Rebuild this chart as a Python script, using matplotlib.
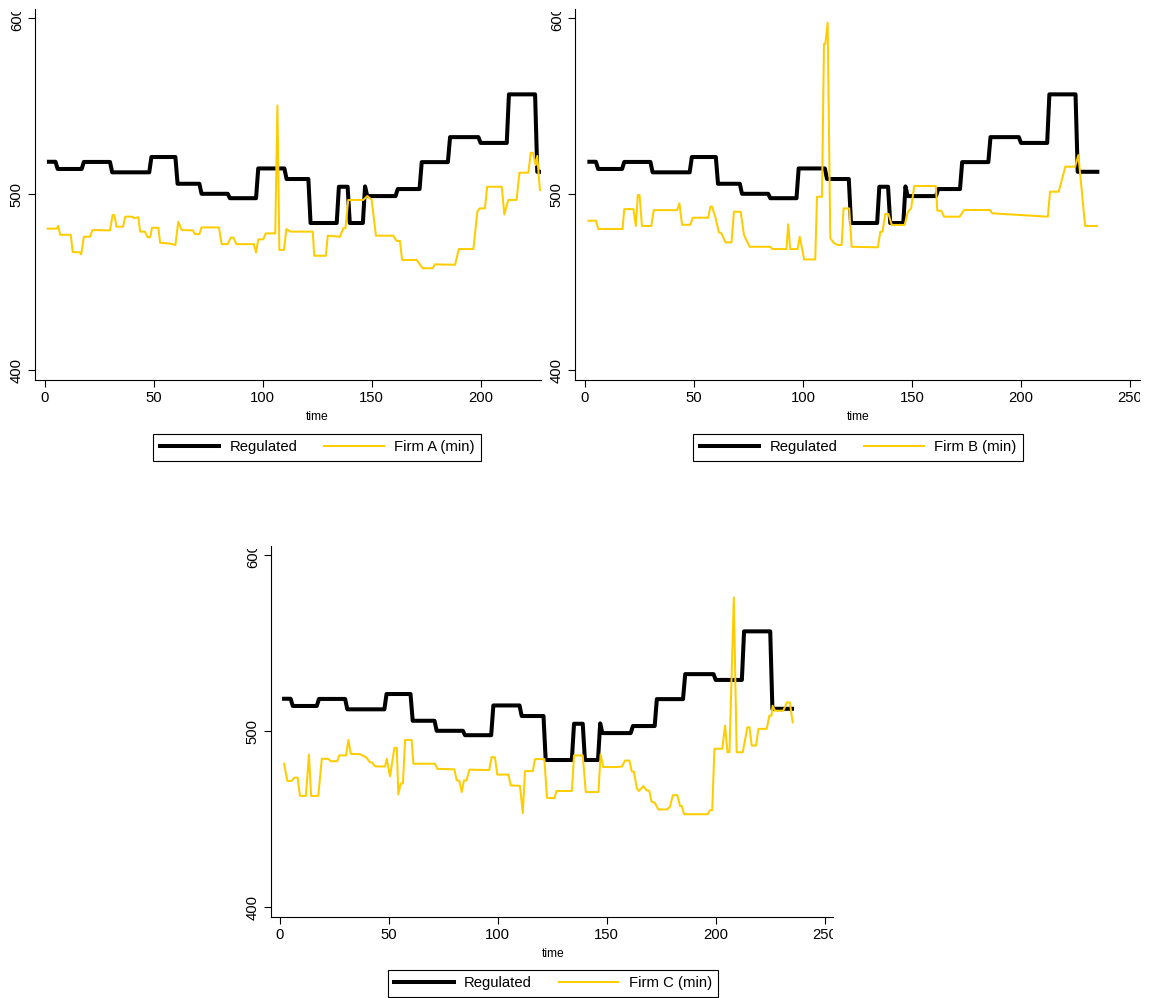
import matplotlib
matplotlib.use("Agg")
import matplotlib.pyplot as plt
from matplotlib.lines import Line2D
from matplotlib.transforms import Bbox, TransformedBbox

plt.rcParams['font.family'] = ['Liberation Sans', 'DejaVu Sans']

# regulated price (same series in all three panels)
reg_t = [2, 5, 6, 17, 18, 30, 31, 48, 49, 60, 61, 71, 72, 84, 85, 97, 98, 110, 111, 121,
         122, 134, 135, 139, 140, 146, 147, 148, 161, 162, 172, 173, 185, 186, 199, 200,
         212, 213, 225, 226, 235]
reg_y = [518.5, 518.5, 514.4, 514.4, 518.4, 518.4, 512.5, 512.5, 521.2, 521.2, 506, 506,
         500.3, 500.3, 497.8, 497.8, 514.7, 514.7, 508.7, 508.7, 483.7, 483.7, 504.3, 504.3,
         483.7, 483.7, 504.5, 499, 499, 503, 503, 518.3, 518.3, 532.5, 532.5, 529.2, 529.2,
         556.8, 556.8, 512.8, 512.8]

firm_a_t = [1.4, 5.5, 6.3, 7.1, 12, 12.9, 16.2, 16.8, 18, 20.8, 22, 30, 31.2, 32, 33, 36, 37,
            40.4, 41, 43, 43.8, 46, 47.3, 48.4, 49.3, 52.2, 53, 57.5, 60, 61.3, 62.9, 68, 69,
            71, 72, 80, 81.2, 84, 85.4, 86.6, 88, 96, 97, 98, 100.3, 101.4, 105.8, 106.8,
            107.7, 109.8, 110.9, 112.9, 123, 123.7, 129, 129.9, 135.5, 137, 138, 139.3, 146.2,
            148, 150, 152, 160, 161.5, 163, 164, 170.7, 173.4, 178, 179, 188.3, 190, 196.7,
            198.5, 199.5, 202, 203, 209.7, 210.9, 212.7, 216.5, 217.8, 221.9, 223, 224, 225.3,
            226, 227.2, 229]
firm_a_y = [480.5, 480.5, 482, 477, 477, 467.2, 467, 465.9, 475.9, 475.9, 479.7, 479.5, 488.2,
            488.2, 481.6, 481.6, 487.3, 487.3, 486.4, 487, 478.8, 478.8, 475.6, 475.6, 481, 481,
            472.5, 472, 471.2, 484.4, 479.7, 479.5, 477.4, 477.4, 481.2, 481.2, 471.7, 471.7,
            475.4, 475.4, 471.7, 471.7, 466.9, 474.4, 474.4, 477.8, 477.8, 550.5, 468.4, 468.4,
            480.2, 478.8, 478.8, 465.1, 465.1, 476.5, 475.9, 480.7, 480.7, 496.8, 496.8, 499,
            497, 476.5, 476.5, 473.5, 473.5, 462.7, 462.7, 458, 458, 460.2, 460, 468.9, 468.9,
            490.1, 492, 492, 504.3, 504.3, 488.6, 496.8, 496.8, 512.3, 512.3, 523.6, 523.6,
            516.6, 521.8, 502.4, 502.4]

firm_b_t = [1.5, 5, 6.1, 17.2, 18, 22.2, 23.3, 24.2, 25, 26.1, 30.4, 31.5, 42.2, 43.3, 44.5,
            48.3, 49.4, 56.5, 57.5, 58.3, 59.9, 61.4, 62.5, 64.5, 67.2, 68.3, 71.4, 72.9, 75.5,
            84.9, 86, 92.4, 93.2, 94.1, 97.5, 98.5, 100.5, 105.6, 106.4, 108.7, 109.6, 110.2,
            111.3, 112.5, 114.3, 115.9, 117.7, 118.6, 121.2, 122.3, 134.3, 135.5, 136.5, 137.7,
            139.2, 140.7, 146.6, 148.1, 149.6, 151, 160.9, 161.6, 163.4, 164.7, 171.9, 173.9,
            185.7, 186.8, 212.3, 213.3, 217.3, 220.3, 224.8, 226.3, 229.4, 234.8]
firm_b_y = [485, 485, 480.3, 480.3, 491.6, 491.6, 482, 499.6, 499.6, 482, 482, 491, 491, 494.9,
            482.7, 482.7, 486.7, 486.7, 493, 493, 486.4, 478.4, 478, 472.7, 472.7, 490.1, 490.1,
            476.9, 470.2, 470.2, 468.9, 468.9, 483, 468.9, 468.9, 475.9, 463, 463, 498.6, 498.6,
            585.4, 585.4, 597.5, 475, 472.2, 471.2, 471.2, 492, 492, 470.2, 469.9, 478.8, 478.8,
            488.8, 488.8, 482.6, 482.6, 490.1, 492, 504.7, 504.7, 490.7, 490.7, 487.3, 487.3,
            491.1, 491.1, 489.2, 487.3, 501.5, 501.5, 515.7, 515.7, 522.3, 482, 482]

firm_c_t = [2, 3.5, 5.5, 6.7, 8.2, 9.3, 12, 13.4, 14.4, 17.7, 19.3, 22.3, 23.4, 26.4, 27.3,
            30.4, 31.5, 32.6, 36.8, 39.6, 41.4, 42.5, 43.7, 48.3, 49.1, 50.6, 52.6, 53.7, 54.4,
            55.5, 56.5, 57.5, 60.5, 61.3, 71.2, 72.3, 80.1, 81.2, 82.4, 83.5, 84.5, 85.7, 87,
            96.1, 97.2, 98.7, 99.8, 104.9, 106, 110.2, 111.5, 112.5, 116.1, 117.1, 121.4, 122.6,
            126, 127, 134, 135, 139, 140.4, 146.2, 147.2, 148.4, 154.6, 157, 158.4, 160.4, 161.5,
            162.5, 163.8, 164.8, 166.8, 168.3, 169.5, 170.6, 172, 173.7, 177.5, 179, 180.3,
            182.4, 183.6, 184.4, 185.5, 196.3, 197.4, 198.4, 199.4, 203, 204.3, 205.4, 206.3,
            208.3, 209.6, 212.4, 214.5, 215.5, 216.5, 218.5, 219.6, 223.4, 224.6, 225.6, 226.1,
            227.2, 231, 232.6, 234, 235.3]
firm_c_y = [481.6, 471.8, 471.8, 473.7, 473.7, 463.3, 463.3, 486.8, 463.3, 463.3, 484.4, 484.4,
            483, 483, 486.3, 486.3, 495.1, 487.2, 487, 485.3, 482.5, 482.2, 480.1, 480, 484.4,
            474.4, 490.6, 490.6, 464.2, 470.3, 470.3, 495.1, 495.1, 481.6, 481.6, 478.7, 478.4,
            472.1, 472, 465.5, 472.1, 472.1, 478.2, 478, 485.3, 485.3, 475.4, 475.4, 469.3, 469,
            453.5, 477.4, 477.4, 484.2, 484.2, 462.2, 462, 466.1, 466.1, 486.3, 486.3, 465.5,
            465.5, 486.8, 479.7, 479.7, 480, 483.4, 483.4, 477.2, 477, 467.5, 466.1, 468.9,
            466.5, 466.2, 459.9, 459.5, 455.6, 455.6, 457, 463.7, 463.7, 457.6, 457.6, 452.9,
            452.9, 455.2, 455.2, 490.1, 490.1, 503.2, 488.1, 488.1, 576.1, 488.1, 488.1, 502.3,
            502.3, 491.9, 491.9, 501.4, 501.4, 508.9, 508.9, 514.5, 511.7, 511.7, 516.4, 516.4,
            505.1]

xticks = [0, 50, 100, 150, 200, 250]
yticks = [400, 500, 600]
firm_labels = ["Firm A (min)", "Firm B (min)", "Firm C (min)"]

W, H = 1152, 998
GOLD = '#FFCC00'
PX_PER_T = 2.18

fig = plt.figure(figsize=(W / 100, H / 100), dpi=100)

# (firm t, firm y, axes box in px (left, top, right, bottom), x-min, "time" y, legend top, centre x)
panels = [
    (firm_a_t, firm_a_y, (35, 9, 541, 380), -4.4, 417, 433.5, 317),
    (firm_b_t, firm_b_y, (575, 9, 1140, 380), -4.6, 417, 433.5, 858),
    (firm_c_t, firm_c_y, (271, 546, 833, 917), -4.0, 954, 969.5, 553),
]

for (ft, fy, box, x0, time_y, leg_top, cx), label in zip(panels, firm_labels):
    left, top, right, bottom = box
    ax = fig.add_axes([left / W, 1 - bottom / H, (right - left) / W, (bottom - top) / H])
    ax.plot(reg_t, reg_y, color='black', lw=2.9)
    ax.plot(ft, fy, color=GOLD, lw=1.45)
    # ticks first: set_xticks would otherwise stretch the limits out to 250
    ax.set_xticks(xticks)
    ax.set_yticks(yticks)
    ax.set_xlim(x0, x0 + (right - left) / PX_PER_T)
    ax.set_ylim(394.5, 605.3)
    for s in ['top', 'right']:
        ax.spines[s].set_visible(False)
    for s in ['left', 'bottom']:
        ax.spines[s].set_linewidth(0.8)
    ax.tick_params(direction='out', length=5, width=0.8, labelsize=10.7, pad=3)
    plt.setp(ax.get_yticklabels(), rotation=90, va='center')
    # labels are cut at the panel edge like in the original graph
    clip = TransformedBbox(Bbox([[-0.2, -0.3], [1.0, 0.993]]), ax.transAxes)
    for lbl in ax.get_xticklabels() + ax.get_yticklabels():
        lbl.set_clip_box(clip)
        lbl.set_clip_on(True)

    fig.text(cx / W, 1 - time_y / H, "time", ha='center', va='center', fontsize=8.7)

    handles = [Line2D([], [], color='black', lw=2.9), Line2D([], [], color=GOLD, lw=1.45)]
    leg = fig.legend(handles, ["Regulated", label], loc='upper center',
                     bbox_to_anchor=(cx / W, 1 - leg_top / H), ncol=2, fontsize=10.7,
                     frameon=True, fancybox=False, edgecolor='black', framealpha=1,
                     handlelength=4, handletextpad=0.7, columnspacing=1.8,
                     borderpad=0.45, borderaxespad=0)
    leg.get_frame().set_linewidth(0.8)

fig.savefig("out.png", dpi=100)
